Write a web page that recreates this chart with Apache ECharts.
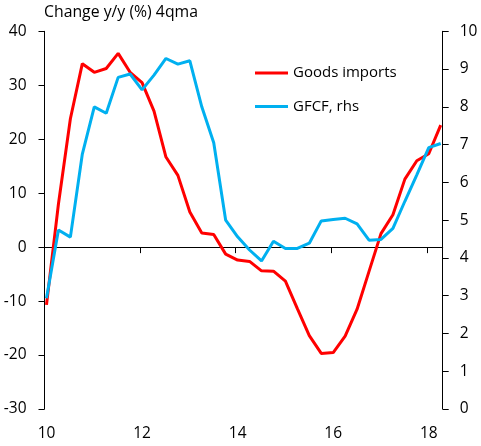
<!DOCTYPE html>
<html>
<head>
<meta charset="utf-8">
<script src="https://cdn.jsdelivr.net/npm/echarts@6/dist/echarts.min.js"></script>
<style>html,body{margin:0;padding:0;background:#fff}#c{width:481px;height:446px}</style>
</head>
<body>
<div id="c"></div>
<script>
// Quarterly periods, 2010Q1 .. 2018Q2
const quarters = ["10Q1","10Q2","10Q3","10Q4","11Q1","11Q2","11Q3","11Q4","12Q1","12Q2","12Q3","12Q4",
  "13Q1","13Q2","13Q3","13Q4","14Q1","14Q2","14Q3","14Q4","15Q1","15Q2","15Q3","15Q4",
  "16Q1","16Q2","16Q3","16Q4","17Q1","17Q2","17Q3","17Q4","18Q1","18Q2"];
const goodsImports = [-10.7, 8.0, 23.8, 34.0, 32.4, 33.1, 35.9, 32.4, 30.5, 25.2, 16.7, 13.3,
  6.5, 2.6, 2.35, -1.3, -2.4, -2.65, -4.4, -4.45, -6.3, -11.4, -16.4, -19.7,
  -19.55, -16.5, -11.5, -4.5, 2.5, 6.0, 12.6, 16.0, 17.3, 22.6];
const gfcf = [2.93, 4.74, 4.55, 6.75, 8.0, 7.83, 8.78, 8.87, 8.45, 8.84, 9.28, 9.13,
  9.22, 8.0, 7.05, 5.0, 4.56, 4.21, 3.92, 4.44, 4.25, 4.25, 4.39, 4.98,
  5.02, 5.05, 4.9, 4.47, 4.49, 4.78, 5.5, 6.2, 6.92, 7.03];
const xTickLabels = [10, 12, 14, 16, 18];
const leftTicks = { min: -30, max: 40, interval: 10 };
const rightTicks = { min: 0, max: 10, interval: 1 };
const seriesNames = ["Goods imports", "GFCF, rhs"];
const titleText = "Change y/y (%) 4qma";

const toYear = q => parseInt(q.slice(0, 2), 10) + (parseInt(q.slice(3), 10) - 1) * 0.25;
const xs = quarters.map(toYear);
const half = 1 / 24;
const xMin = xs[0] - half, xMax = xs[xs.length - 1] + half;

const font = "'Open Sans', 'Noto Sans', sans-serif";
const chart = echarts.init(document.getElementById('c'), null, { renderer: 'canvas' });
chart.setOption({
  animation: false,
  backgroundColor: '#fff',
  title: { text: titleText, left: 44, top: 4, padding: 0,
    textStyle: { fontFamily: font, fontSize: 15.8, fontWeight: 'normal', color: '#000' } },
  legend: {
    orient: 'vertical', left: 255, top: 64, padding: 0, itemGap: 15.4,
    itemWidth: 33, itemHeight: 3, icon: 'rect',
    textStyle: { fontFamily: font, fontSize: 15, color: '#000', lineHeight: 18 },
    data: seriesNames
  },
  grid: { left: 44.5, right: 38.3, top: 31.3, bottom: 37, containLabel: false },
  xAxis: [
    { type: 'value', min: xMin, max: xMax, position: 'bottom',
      axisLine: { show: false, onZero: false }, axisTick: { show: false }, splitLine: { show: false },
      axisLabel: { customValues: xTickLabels, margin: 17, color: '#000', fontFamily: font, fontSize: 15.5,
        formatter: v => String(Math.round(v)) } },
    { type: 'value', min: xMin, max: xMax, position: 'bottom',
      axisLine: { show: true, onZero: true, onZeroAxisIndex: 0, lineStyle: { color: '#000', width: 1 } },
      axisTick: { show: true, length: 6, inside: false, customValues: xTickLabels.slice(1).map(v => v - half), lineStyle: { color: '#000' } },
      axisLabel: { show: false }, splitLine: { show: false } }
  ],
  yAxis: [
    { type: 'value', min: leftTicks.min, max: leftTicks.max, interval: leftTicks.interval, position: 'left',
      axisLine: { show: true, onZero: false, lineStyle: { color: '#000' } },
      axisTick: { show: true, length: 6, inside: false, lineStyle: { color: '#000' } },
      splitLine: { show: false },
      axisLabel: { margin: 18, color: '#000', fontFamily: font, fontSize: 15.5 } },
    { type: 'value', min: rightTicks.min, max: rightTicks.max, interval: rightTicks.interval, position: 'right',
      axisLine: { show: true, onZero: false, lineStyle: { color: '#000' } },
      axisTick: { show: true, length: 6, inside: false, lineStyle: { color: '#000' } },
      splitLine: { show: false },
      axisLabel: { margin: 17, color: '#000', fontFamily: font, fontSize: 15.5 } }
  ],
  series: [
    { name: seriesNames[0], type: 'line', xAxisIndex: 0, yAxisIndex: 0, showSymbol: false, symbol: 'none',
      lineStyle: { color: '#FF0000', width: 3 }, itemStyle: { color: '#FF0000' }, z: 3,
      data: xs.map((x, i) => [x, goodsImports[i]]) },
    { name: seriesNames[1], type: 'line', xAxisIndex: 0, yAxisIndex: 1, showSymbol: false, symbol: 'none',
      lineStyle: { color: '#00B0F0', width: 3 }, itemStyle: { color: '#00B0F0' }, z: 4,
      data: xs.map((x, i) => [x, gfcf[i]]) }
  ]
});
</script>
</body>
</html>
